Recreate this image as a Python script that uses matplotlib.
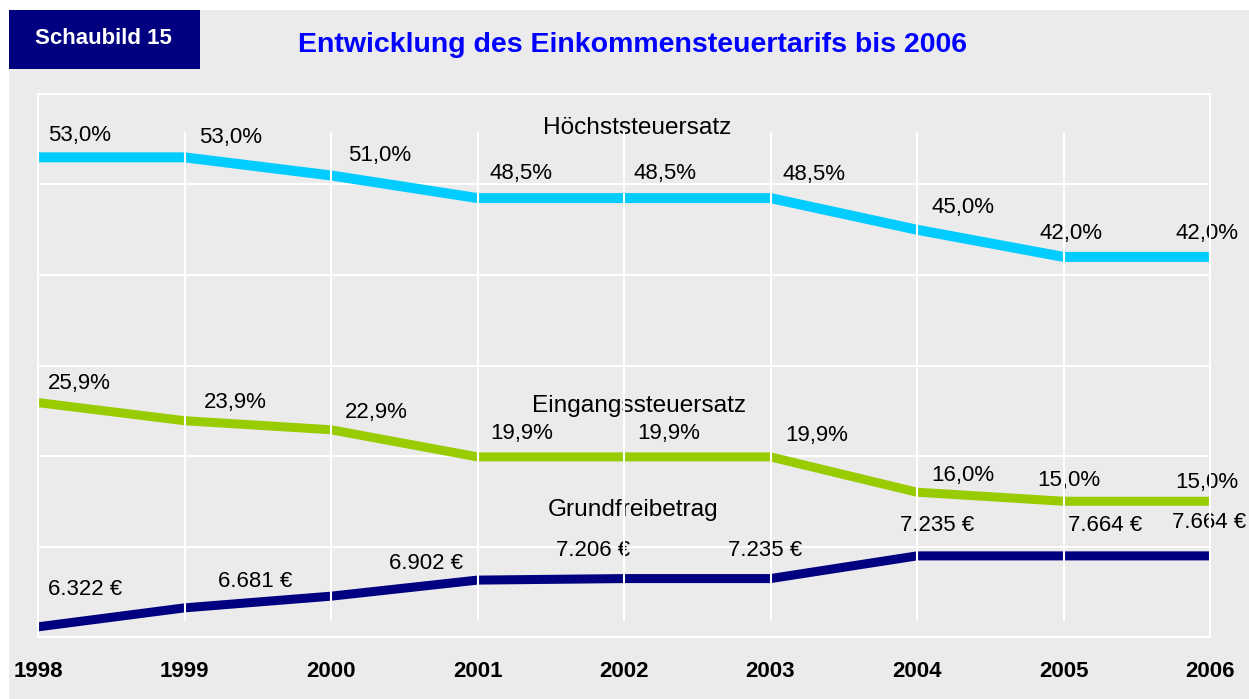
import matplotlib
matplotlib.use("Agg")
import matplotlib.pyplot as plt
from matplotlib.patches import Rectangle

plt.rcParams['font.family'] = ['Liberation Sans', 'DejaVu Sans']

# ---------------- data ----------------
years = [1998, 1999, 2000, 2001, 2002, 2003, 2004, 2005, 2006]
hoechst = [53.0, 53.0, 51.0, 48.5, 48.5, 48.5, 45.0, 42.0, 42.0]
eingang = [25.9, 23.9, 22.9, 19.9, 19.9, 19.9, 16.0, 15.0, 15.0]
grund = [6322, 6681, 6902, 7206, 7235, 7235, 7664, 7664, 7664]
hoechst_labels = ["53,0%", "53,0%", "51,0%", "48,5%", "48,5%", "48,5%", "45,0%", "42,0%", "42,0%"]
eingang_labels = ["25,9%", "23,9%", "22,9%", "19,9%", "19,9%", "19,9%", "16,0%", "15,0%", "15,0%"]
grund_labels = ["6.322 €", "6.681 €", "6.902 €", "", "7.206 €", "7.235 €", "7.235 €", "7.664 €", "7.664 €"]
series_names = ["Höchststeuersatz", "Eingangssteuersatz", "Grundfreibetrag"]
title = "Entwicklung des Einkommensteuertarifs bis 2006"
badge = "Schaubild 15"

# ---------------- layout / style ----------------
W, H = 1249, 699
BG = "#EBEBEB"
C_HOE = "#00CCFF"
C_EIN = "#99CC00"
C_GRU = "#000080"
TXT = "#000000"
FS = 16
FS_NAME = 17.6

# label offsets (pixels) relative to each data point
shift = [0, -1, 0, 2, 6, 7, 11, 12, 0]
hoe_off = [(10, 22), (16, 20), (17, 20), (10, 25), (3, 25), (5, 24), (3, 22), (-36, 23), (-35, 23)]
ein_off = [(10, 19), (20, 18), (14, 17), (11, 23), (7, 23), (8, 21), (3, 17), (-38, 21), (-35, 19)]
gru_off = [(10, 37), (35, 26), (58, 33), (0, 0), (-74, 28), (-50, 28), (-28, 30), (-8, 30), (-38, 33)]

fig = plt.figure(figsize=(W / 100, H / 100), dpi=100)
fig.patch.set_facecolor(BG)
# white strips at top and left edge
fig.patches.append(Rectangle((0, (H - 10) / H), 1, 10 / H, transform=fig.transFigure,
                             facecolor="white", edgecolor="none", zorder=0))
fig.patches.append(Rectangle((0, 0), 9 / W, 1, transform=fig.transFigure,
                             facecolor="white", edgecolor="none", zorder=0))
fig.patches.append(Rectangle((9 / W, (H - 69) / H), 191 / W, 59 / H, transform=fig.transFigure,
                             facecolor="#000080", edgecolor="none", zorder=1))
fig.text(103 / W, (H - 38) / H, badge, color="white", fontsize=FS, fontweight="bold",
         ha="center", va="center")
fig.text(633 / W, (H - 45) / H, title, color="#0000FF", fontsize=20.5, fontweight="bold",
         ha="center", va="center")

left, right, top, bottom = 38, 1210, 94, 637
ax = fig.add_axes([left / W, (H - bottom) / H, (right - left) / W, (bottom - top) / H])
ax.set_zorder(2)
ax.set_facecolor(BG)
ax.set_xlim(years[0], years[-1])
ax.set_ylim(0, 60)
ax.set_yticks(range(0, 61, 10))
ax.yaxis.grid(True, color="white", lw=1.5)
ax.set_axisbelow(True)
ax.set_xticks(years)
ax.set_xticklabels([str(y) for y in years], fontsize=FS, fontweight="bold", color=TXT)
ax.tick_params(axis="x", length=0, pad=17)
for s in ax.spines.values():
    s.set_color("white")
    s.set_linewidth(1.5)

ax.plot(years, hoechst, color=C_HOE, lw=7.2, solid_capstyle="butt", solid_joinstyle="miter", zorder=2)
ax.plot(years, eingang, color=C_EIN, lw=6.5, solid_capstyle="butt", solid_joinstyle="miter", zorder=2)

ax2 = ax.twinx()
ax2.set_zorder(3)
ax2.set_ylim(6130, 16400)
ax2.patch.set_visible(False)
for s in ax2.spines.values():
    s.set_color("white")
    s.set_linewidth(1.5)
ax2.plot(years, grund, color=C_GRU, lw=6.5, solid_capstyle="butt", solid_joinstyle="miter", zorder=2)

for a in (ax, ax2):
    a.tick_params(axis="y", left=False, right=False, labelleft=False, labelright=False)

for i, y in enumerate(years):
    ax.annotate(hoechst_labels[i], xy=(y, hoechst[i]), xytext=(hoe_off[i][0] + shift[i], hoe_off[i][1]),
                textcoords="offset pixels", ha="left", va="center", fontsize=FS, color=TXT,
                zorder=3, annotation_clip=False)
    ax.annotate(eingang_labels[i], xy=(y, eingang[i]), xytext=(ein_off[i][0] + shift[i], ein_off[i][1]),
                textcoords="offset pixels", ha="left", va="center", fontsize=FS, color=TXT,
                zorder=3, annotation_clip=False)
    if grund_labels[i]:
        ax.annotate(grund_labels[i], xy=(y, grund[i]), xycoords=ax2.transData,
                    xytext=(gru_off[i][0] + shift[i], gru_off[i][1]),
                    textcoords="offset pixels", ha="left", va="center", fontsize=FS, color=TXT,
                    zorder=3, annotation_clip=False)

ax.text(2002.09, 56.2, series_names[0], ha="center", va="center", fontsize=FS_NAME, color=TXT)
ax.text(2002.10, 25.5, series_names[1], ha="center", va="center", fontsize=FS_NAME, color=TXT)
ax.text(2002.06, 14.0, series_names[2], ha="center", va="center", fontsize=FS_NAME, color=TXT)

# inner vertical grid lines drawn over the lines
ax2.vlines(years[1:-1], 0.03, 0.93, transform=ax2.get_xaxis_transform(), colors="white", lw=1.5, zorder=5)

fig.savefig("out.png", dpi=100, facecolor=fig.get_facecolor())
